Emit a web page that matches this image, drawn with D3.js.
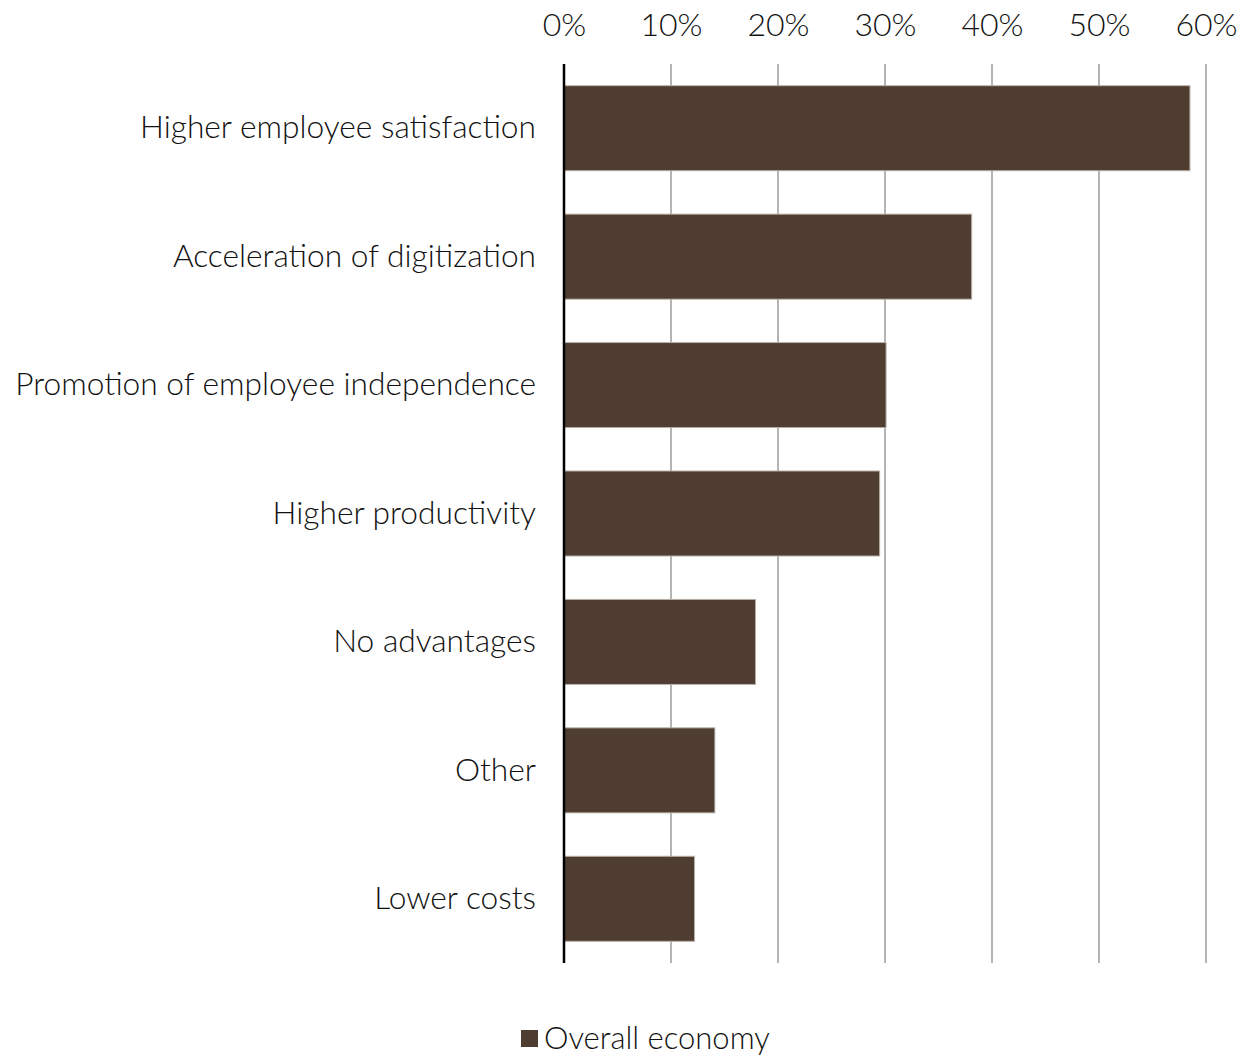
<!DOCTYPE html>
<html>
<head>
<meta charset="utf-8">
<script src="https://cdn.jsdelivr.net/npm/d3@7"></script>
<style>
  html, body { margin: 0; padding: 0; background: #fff; }
  svg { display: block; }
  text { font-family: Lato, "Open Sans", sans-serif; font-weight: 300; fill: #111; }
</style>
</head>
<body>
<svg id="chart" width="1246" height="1056"></svg>
<script>
// Reported advantages of working from home (share of companies)
const categories = [
  "Higher employee satisfaction",
  "Acceleration of digitization",
  "Promotion of employee independence",
  "Higher productivity",
  "No advantages",
  "Other",
  "Lower costs"
];
const overallEconomy = [58.5, 38.1, 30.1, 29.5, 17.9, 14.1, 12.2];
const tickValues = [0, 10, 20, 30, 40, 50, 60];
const seriesName = "Overall economy";

const barColor = "#4f3d31";
const labelSize = 31.7;
const tickSize = 32;
const svg = d3.select("#chart");

const margin = { left: 564, right: 40, top: 64, bottom: 93 };
const width = 1246, height = 1056;

const x = d3.scaleLinear().domain([0, 60]).range([margin.left, margin.left + 642]);
const y = d3.scaleBand()
  .domain(categories)
  .range([margin.top, height - margin.bottom])
  .paddingInner(0.338)
  .paddingOuter(0.169);

// vertical gridlines
svg.append("g")
  .selectAll("line")
  .data(tickValues.filter(d => d > 0))
  .join("line")
  .attr("x1", d => x(d)).attr("x2", d => x(d))
  .attr("y1", margin.top).attr("y2", height - margin.bottom)
  .attr("stroke", "#8c8c8c")
  .attr("stroke-width", 1.3);

// top axis tick labels
const xAxis = d3.axisTop(x)
  .tickValues(tickValues)
  .tickFormat(d => d + "%")
  .tickSize(0)
  .tickPadding(0);
const gx = svg.append("g")
  .attr("transform", `translate(0, 36)`)
  .call(xAxis);
gx.select(".domain").remove();
gx.selectAll("text")
  .attr("font-size", tickSize)
  .attr("font-family", null)
  .attr("fill", "#111")
  .attr("dy", 0);

// bars
svg.append("g")
  .selectAll("rect")
  .data(categories.map((c, i) => ({ c, v: overallEconomy[i] })))
  .join("rect")
  .attr("x", x(0))
  .attr("y", d => y(d.c))
  .attr("width", d => x(d.v) - x(0))
  .attr("height", y.bandwidth())
  .attr("fill", barColor)
  .attr("stroke", "#b8b0a8")
  .attr("stroke-width", 1);

// category axis
const yAxis = d3.axisLeft(y).tickSize(0).tickPadding(28);
const gy = svg.append("g")
  .attr("transform", `translate(${x(0)}, 0)`)
  .call(yAxis);
gy.select(".domain").remove();
gy.selectAll("text")
  .attr("font-size", labelSize)
  .attr("font-family", null)
  .attr("fill", "#111");

// baseline
svg.append("line")
  .attr("x1", x(0)).attr("x2", x(0))
  .attr("y1", margin.top).attr("y2", height - margin.bottom)
  .attr("stroke", "#000")
  .attr("stroke-width", 2.5);

// legend
const legend = svg.append("g").attr("transform", "translate(521, 1030)");
legend.append("rect")
  .attr("width", 17).attr("height", 17)
  .attr("fill", barColor);
legend.append("text")
  .attr("x", 23).attr("y", 19)
  .attr("font-size", 31)
  .text(seriesName);
</script>
</body>
</html>
